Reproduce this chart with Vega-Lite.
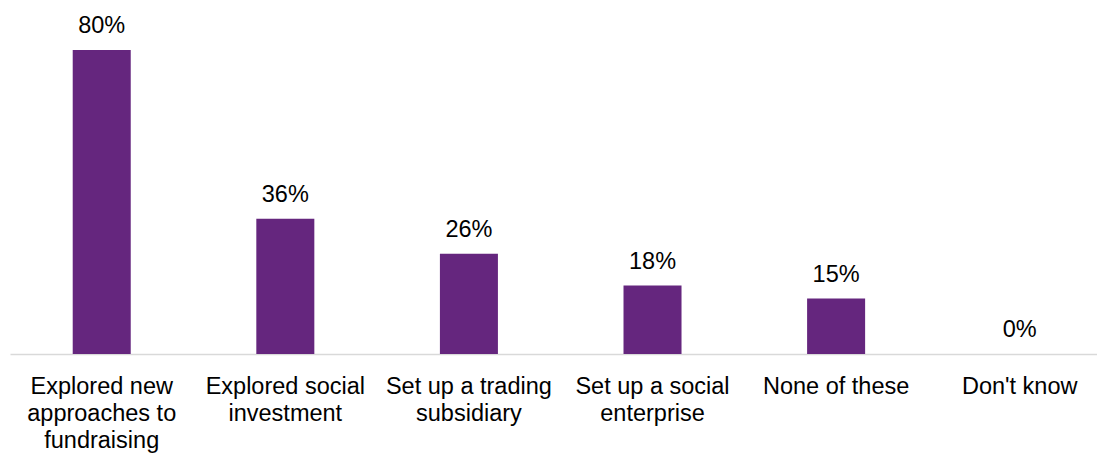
{
  "$schema": "https://vega.github.io/schema/vega-lite/v6.json",
  "width": 1087,
  "height": 304,
  "autosize": {"type": "none"},
  "padding": {"left": 10, "top": 50, "right": 0, "bottom": 99},
  "background": "white",
  "config": {
    "view": {"stroke": null},
    "font": "Liberation Sans"
  },
  "data": {
    "values": [
      {"category": "Explored new\napproaches to\nfundraising", "value": 0.80},
      {"category": "Explored social\ninvestment", "value": 0.356},
      {"category": "Set up a trading\nsubsidiary", "value": 0.264},
      {"category": "Set up a social\nenterprise", "value": 0.18},
      {"category": "None of these", "value": 0.146},
      {"category": "Don't know", "value": 0.0}
    ]
  },
  "encoding": {
    "x": {
      "field": "category",
      "type": "nominal",
      "sort": null,
      "scale": {"paddingInner": 0.684, "paddingOuter": 0.3023, "align": 0.565},
      "axis": {
        "title": null,
        "labelAngle": 0,
        "labelExpr": "split(datum.label, '\\n')",
        "labelFont": "Liberation Sans",
        "labelFontSize": 23.5,
        "labelColor": "#000000",
        "labelLineHeight": 27,
        "labelPadding": 20,
        "labelLimit": 400,
        "labelOverlap": false,
        "labelBaseline": "top",
        "ticks": false,
        "tickSize": 0,
        "domainColor": "#d9d9d9",
        "domainWidth": 1.3,
        "grid": false
      }
    },
    "y": {
      "field": "value",
      "type": "quantitative",
      "scale": {"domain": [0, 0.8], "nice": false, "zero": true},
      "axis": null
    }
  },
  "layer": [
    {
      "mark": {"type": "bar", "color": "#65267E"}
    },
    {
      "mark": {
        "type": "text",
        "baseline": "alphabetic",
        "align": "center",
        "dy": -17,
        "fontSize": 23.5,
        "font": "Liberation Sans",
        "color": "#000000"
      },
      "encoding": {
        "text": {"field": "value", "type": "quantitative", "format": ".0%"}
      }
    }
  ]
}
